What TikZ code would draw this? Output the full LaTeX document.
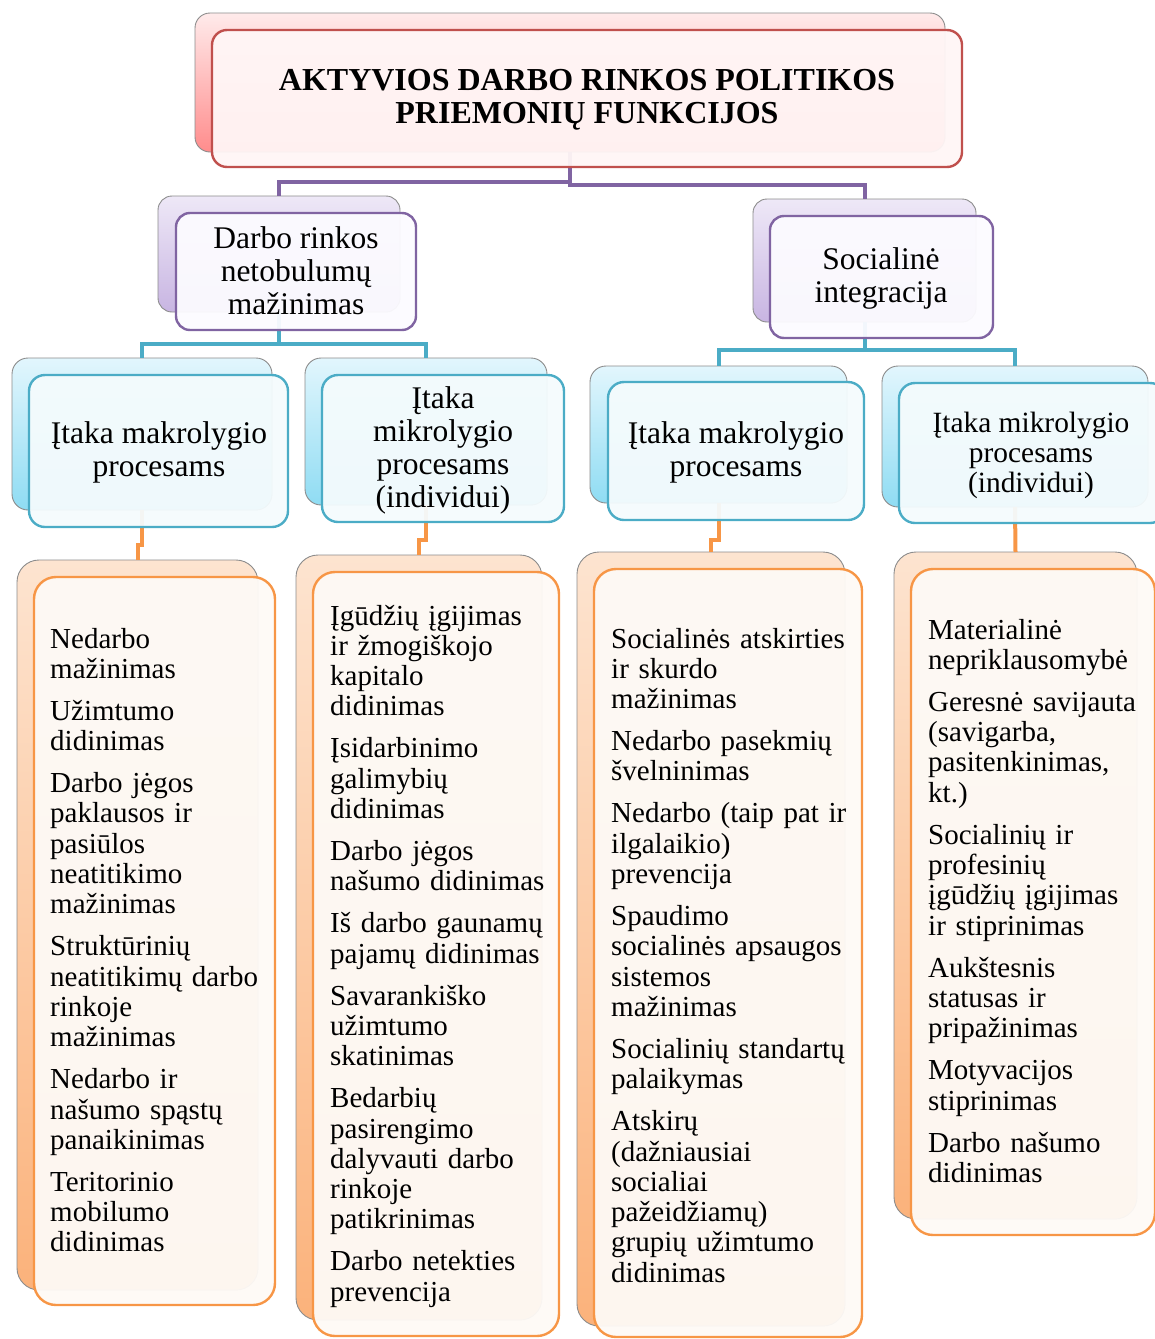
\documentclass[tikz,border=0pt]{standalone}
\usepackage{fontspec}
\setmainfont{Liberation Serif}
\usetikzlibrary{fit}
\definecolor{redB}{HTML}{C0504D}
\definecolor{purB}{HTML}{8064A2}
\definecolor{tealB}{HTML}{4BACC6}
\definecolor{oraB}{HTML}{F79646}
\tikzset{
  box/.style={rectangle, inner sep=0pt, outer sep=0pt},
  backbox/.style={box, draw=black!45, line width=0.9pt},
  frontbox/.style={box, line width=2.4pt, fill opacity=0.95},
  redback/.style={backbox, rounded corners=15pt, top color=red!8, bottom color=red!45!white},
  redfront/.style={frontbox, rounded corners=15pt, draw=redB, fill={rgb,255:red,255;green,246;blue,246}},
  purback/.style={backbox, rounded corners=14pt, top color={rgb,255:red,238;green,232;blue,247}, bottom color={rgb,255:red,200;green,181;blue,226}},
  purfront/.style={frontbox, rounded corners=14pt, draw=purB, fill={rgb,255:red,252;green,251;blue,255}},
  tealback/.style={backbox, rounded corners=16pt, top color={rgb,255:red,226;green,246;blue,253}, bottom color={rgb,255:red,143;green,220;blue,243}},
  tealfront/.style={frontbox, rounded corners=16pt, draw=tealB, fill={rgb,255:red,244;green,251;blue,253}},
  oraback/.style={backbox, rounded corners=22pt, top color={rgb,255:red,253;green,228;blue,208}, bottom color={rgb,255:red,251;green,178;blue,123}},
  orafront/.style={frontbox, rounded corners=22pt, draw=oraB, fill={rgb,255:red,254;green,250;blue,246}},
  conn/.style={line width=4pt},
  titletext/.style={align=center, font=\fontsize{32}{33}\selectfont\bfseries},
  headtext/.style={align=center, font=\fontsize{31.5}{33}\selectfont},
  smallhead/.style={align=center, font=\fontsize{29.4}{30}\selectfont},
  listtext/.style={anchor=base west, inner sep=0pt, text width=300pt, align=left, font=\fontsize{29}{30.3}\selectfont}
}
\begin{document}
\begin{tikzpicture}[x=1pt,y=-1pt]
\useasboundingbox (0,0) rectangle (1155,1339);

% ---------- back boxes ----------
\node[redback, fit={(195,13) (945,152)}] (tb) {};
\node[purback, fit={(158,196) (400,312)}] (pab) {};
\node[purback, fit={(753,199) (976,322)}] (pbb) {};
\node[tealback, fit={(12,358) (272,510)}] (tab) {};
\node[tealback, fit={(305,358) (547,505)}] (tbb) {};
\node[tealback, fit={(590,366) (847,503)}] (tcb) {};
\node[tealback, fit={(882,366) (1148,507)}] (tdb) {};
\node[oraback, fit={(17,560) (258,1290)}] (oab) {};
\node[oraback, fit={(296,555) (542,1320)}] (obb) {};
\node[oraback, fit={(577,552) (845,1326)}] (ocb) {};
\node[oraback, fit={(894,552) (1137,1219)}] (odb) {};

% ---------- connectors ----------
\draw[conn, purB] (tb.south) -- ++(0,30) -| (pab.north);
\draw[conn, purB] (tb.south) -- ++(0,33) -| (pbb.north);
\draw[conn, tealB] (pab.south) -- ++(0,32) -| (tab.north);
\draw[conn, tealB] (pab.south) -- ++(0,32) -| (tbb.north);
\draw[conn, tealB] (pbb.south) -- ++(0,28) -| (tcb.north);
\draw[conn, tealB] (pbb.south) -- ++(0,28) -| (tdb.north);
\draw[conn, oraB] (tab.south) -- ++(0,35) -| (oab.north);
\draw[conn, oraB] (tbb.south) -- ++(0,35) -| (obb.north);
\draw[conn, oraB] (tcb.south) -- ++(0,37) -| (ocb.north);
\draw[conn, oraB] (tdb.south) -- (odb.north);

% ---------- front boxes ----------
\node[redfront, fit={(212,30) (962,167)}] (tf) {};
\node[purfront, fit={(176,213) (416,330)}] (paf) {};
\node[purfront, fit={(770,216) (993,338)}] (pbf) {};
\node[tealfront, fit={(29,375) (288,527)}] (taf) {};
\node[tealfront, fit={(322,375) (564,522)}] (tbf) {};
\node[tealfront, fit={(608,382) (864,520)}] (tcf) {};
\node[tealfront, fit={(899,383) (1166,523)}] (tdf) {};
\node[orafront, fit={(34,577) (275,1305)}] (oaf) {};
\node[orafront, fit={(313,572) (559,1336)}] (obf) {};
\node[orafront, fit={(594,569) (862,1337)}] (ocf) {};
\node[orafront, fit={(911,569) (1155,1235)}] (odf) {};

% ---------- texts ----------
\node[titletext] (ttitle) at (587,100) {AKTYVIOS DARBO RINKOS POLITIKOS\\PRIEMONIŲ FUNKCIJOS};
\node[headtext] (tpa) at (296,271) {Darbo rinkos\\netobulumų\\mažinimas};
\node[headtext] (tpb) at (881,278.5) {Socialinė\\integracija};
\node[headtext] (tta) at (159,452.5) {Įtaka makrolygio\\procesams};
\node[headtext] (ttb) at (443,450) {Įtaka\\mikrolygio\\procesams\\(individui)};
\node[headtext] (ttc) at (736,452.5) {Įtaka makrolygio\\procesams};
\node[smallhead] (ttd) at (1031,455) {Įtaka mikrolygio\\procesams\\(individui)};

\node[listtext] (la) at (50,648) {Nedarbo\\mažinimas\\[11.7pt]
Užimtumo\\didinimas\\[11.7pt]
Darbo jėgos\\paklausos ir\\pasiūlos\\neatitikimo\\mažinimas\\[11.7pt]
Struktūrinių\\neatitikimų darbo\\rinkoje\\mažinimas\\[11.7pt]
Nedarbo ir\\našumo spąstų\\panaikinimas\\[11.7pt]
Teritorinio\\mobilumo\\didinimas};

\node[listtext] (lb) at (330,625) {Įgūdžių įgijimas\\ir žmogiškojo\\kapitalo\\didinimas\\[11.7pt]
Įsidarbinimo\\galimybių\\didinimas\\[11.7pt]
Darbo jėgos\\našumo didinimas\\[11.7pt]
Iš darbo gaunamų\\pajamų didinimas\\[11.7pt]
Savarankiško\\užimtumo\\skatinimas\\[11.7pt]
Bedarbių\\pasirengimo\\dalyvauti darbo\\rinkoje\\patikrinimas\\[11.7pt]
Darbo netekties\\prevencija};

\node[listtext] (lc) at (611,648) {Socialinės atskirties\\ir skurdo\\mažinimas\\[11.7pt]
Nedarbo pasekmių\\švelninimas\\[11.7pt]
Nedarbo (taip pat ir\\ilgalaikio)\\prevencija\\[11.7pt]
Spaudimo\\socialinės apsaugos\\sistemos\\mažinimas\\[11.7pt]
Socialinių standartų\\palaikymas\\[11.7pt]
Atskirų\\(dažniausiai\\socialiai\\pažeidžiamų)\\grupių užimtumo\\didinimas};

\node[listtext] (ld) at (928,639) {Materialinė\\nepriklausomybė\\[11.7pt]
Geresnė savijauta\\(savigarba,\\pasitenkinimas,\\kt.)\\[11.7pt]
Socialinių ir\\profesinių\\įgūdžių įgijimas\\ir stiprinimas\\[11.7pt]
Aukštesnis\\statusas ir\\pripažinimas\\[11.7pt]
Motyvacijos\\stiprinimas\\[11.7pt]
Darbo našumo\\didinimas};
\end{tikzpicture}
\end{document}
